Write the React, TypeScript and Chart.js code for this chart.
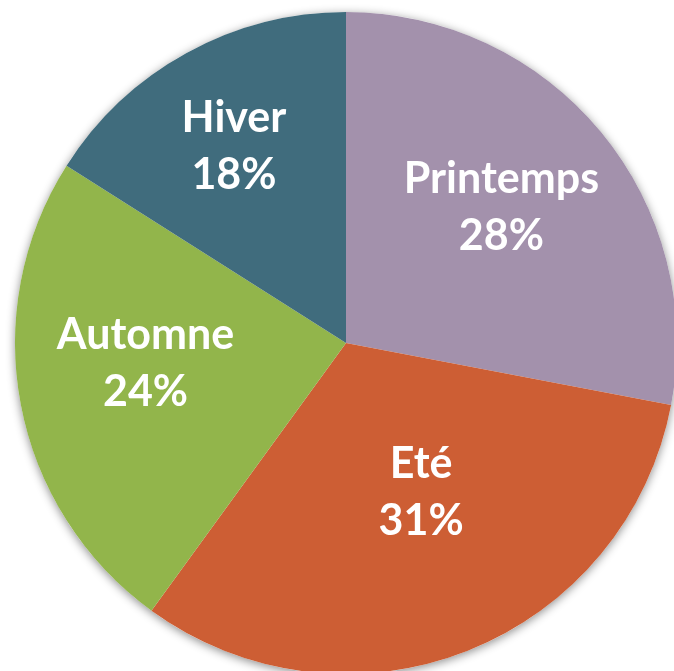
import React, { useEffect, useRef } from "react";
import { Chart, registerables } from "chart.js";

Chart.register(...registerables);

const seasons = ["Printemps", "Eté", "Automne", "Hiver"];
const shares = [28, 32, 24, 16];
const percentLabels = ["28%", "31%", "24%", "18%"];
const sliceColors = ["#A391AC", "#CD5E34", "#92B54B", "#406C7D"];

const labelRadius = [0.623, 0.507, 0.609, 0.683];
const labelAngleShift = [-1.5, -5.0, 4.8, -0.9];

const labelPlugin = {
  id: "sliceLabels",
  beforeDatasetsDraw(chart: any) {
    const ctx = chart.ctx;
    const meta = chart.getDatasetMeta(0);
    const a = meta.data[0] as any;
    if (!a) return;
    ctx.save();
    ctx.beginPath();
    ctx.arc(a.x, a.y, a.outerRadius, 0, Math.PI * 2);
    ctx.shadowColor = "rgba(0,0,0,0.45)";
    ctx.shadowBlur = 10;
    ctx.shadowOffsetY = 2;
    ctx.fillStyle = "#ffffff";
    ctx.fill();
    ctx.restore();
  },
  afterDatasetsDraw(chart: any) {
    const ctx = chart.ctx;
    const meta = chart.getDatasetMeta(0);
    ctx.save();
    ctx.fillStyle = "#ffffff";
    ctx.textAlign = "center";
    ctx.textBaseline = "middle";
    ctx.font = "bold 43px Lato";
    const lineH = 57;
    meta.data.forEach((el: any, i: number) => {
      const mid = (el.startAngle + el.endAngle) / 2 + (labelAngleShift[i] * Math.PI) / 180;
      const r = el.outerRadius * labelRadius[i];
      const cx = el.x + Math.cos(mid) * r;
      const cy = el.y + Math.sin(mid) * r;
      ctx.fillText(seasons[i], cx, cy - lineH / 2);
      ctx.fillText(percentLabels[i], cx, cy + lineH / 2);
    });
    ctx.restore();
  },
};

export default function App() {
  const ref = useRef<HTMLCanvasElement>(null);
  useEffect(() => {
    if (!ref.current) return;
    const chart = new Chart(ref.current, {
      type: "pie",
      data: {
        labels: seasons,
        datasets: [
          {
            data: shares,
            backgroundColor: sliceColors,
            borderWidth: 0,
          },
        ],
      },
      options: {
        responsive: false,
        animation: false,
        events: [],
        layout: { padding: { left: 15, top: 12, right: 23, bottom: 26 } },
        plugins: {
          legend: { display: false },
          tooltip: { enabled: false },
          title: { display: false },
        },
      },
      plugins: [labelPlugin],
    });
    return () => chart.destroy();
  }, []);
  return (
    <div
      style={{
        position: "fixed",
        left: 0,
        top: 0,
        width: 674,
        height: 671,
        overflow: "hidden",
        background: "#ffffff",
      }}
    >
      <canvas ref={ref} width={700} height={700} style={{ display: "block" }} />
    </div>
  );
}
